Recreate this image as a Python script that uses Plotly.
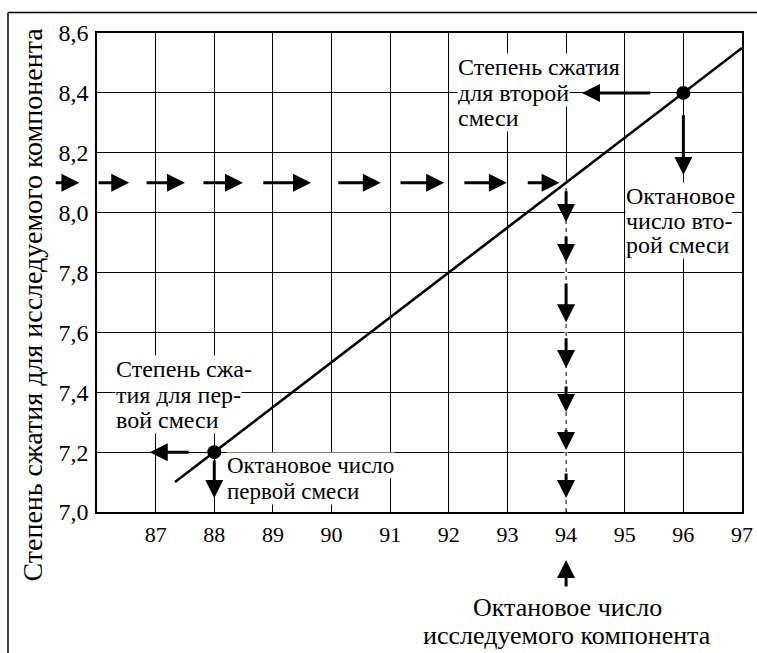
import plotly.graph_objects as go

# ---------------- data ----------------
X_RANGE = [86, 97]
Y_RANGE = [7.0, 8.6]
x_ticks = [87, 88, 89, 90, 91, 92, 93, 94, 95, 96, 97]
y_ticks = [7.0, 7.2, 7.4, 7.6, 7.8, 8.0, 8.2, 8.4, 8.6]

# calibration line
line_x = [87.33, 97.0]
line_y = [7.10, 8.55]

# known mixtures (octane number, compression ratio)
mix_x = [88, 96]
mix_y = [7.2, 8.4]

# dashed horizontal arrow chain at the compression ratio of the tested component
h_level = 8.1
h_start = [85.27, 86.00, 86.82, 87.79, 88.81, 90.09, 91.15, 92.24, 93.32]
h_end = [85.70, 86.55, 87.50, 88.49, 89.65, 90.84, 91.92, 92.99, 93.89]

# dashed vertical arrow chain down to the octane number of the tested component
v_level = 94
v_start = [8.076, 7.925, 7.768, 7.585, 7.424, 7.280, 7.134]
v_end = [7.969, 7.835, 7.634, 7.481, 7.334, 7.207, 7.047]

# arrows from the two mixture points
left2_x = [95.46, 94.27]   # from point 2 to the left (y = 8.4)
down2_y = [8.33, 8.126]    # from point 2 downwards (x = 96)
left1_x = [87.59, 86.90]   # from point 1 to the left (y = 7.2)
down1_y = [7.177, 7.047]   # from point 1 downwards (x = 88)

FONT = '"Liberation Serif", "DejaVu Serif", "Times New Roman", serif'


def xpaper(v):
    return (v - X_RANGE[0]) / (X_RANGE[1] - X_RANGE[0])


fig = go.Figure()

fig.add_trace(go.Scatter(x=line_x, y=line_y, mode="lines",
                         line=dict(color="black", width=2.6),
                         showlegend=False, hoverinfo="skip"))
fig.add_trace(go.Scatter(x=mix_x, y=mix_y, mode="markers",
                         marker=dict(color="black", size=14),
                         showlegend=False, hoverinfo="skip"))

ann = []
ARW = dict(showarrow=True, arrowhead=2, arrowsize=1.2, arrowwidth=3,
           arrowcolor="black", text="", standoff=0)

# horizontal chain
for s, e in zip(h_start, h_end):
    if e < X_RANGE[0]:
        ann.append(dict(x=xpaper(e), y=h_level, xref="paper", yref="y",
                        ax=-(e - s) * 58.6, ay=0, axref="pixel", ayref="pixel", **ARW))
    else:
        ann.append(dict(x=e, y=h_level, xref="x", yref="y",
                        ax=s, ay=h_level, axref="x", ayref="y", **ARW))
# vertical chain
for s, e in zip(v_start, v_end):
    ann.append(dict(x=v_level, y=e, xref="x", yref="y",
                    ax=v_level, ay=s, axref="x", ayref="y", **ARW))
# mixture arrows
ann.append(dict(x=left2_x[1], y=mix_y[1], ax=left2_x[0], ay=mix_y[1],
                xref="x", yref="y", axref="x", ayref="y", **ARW))
ann.append(dict(x=mix_x[1], y=down2_y[1], ax=mix_x[1], ay=down2_y[0],
                xref="x", yref="y", axref="x", ayref="y", **ARW))
ann.append(dict(x=left1_x[1], y=mix_y[0], ax=left1_x[0], ay=mix_y[0],
                xref="x", yref="y", axref="x", ayref="y", **ARW))
ann.append(dict(x=mix_x[0], y=down1_y[1], ax=mix_x[0], ay=down1_y[0],
                xref="x", yref="y", axref="x", ayref="y", **ARW))


def add_lines(lines, x, ys, size, xref="x", yref="y", xanchor="left", bg="white"):
    for t, y in zip(lines, ys):
        ann.append(dict(text=t, x=x, y=y, xref=xref, yref=yref,
                        xanchor=xanchor, yanchor="middle", showarrow=False,
                        bgcolor=bg, borderpad=0,
                        font=dict(family=FONT, size=size, color="black")))


add_lines(["Степень сжатия", "для второй", "смеси"], 92.14, [8.486, 8.400, 8.316], 24)
add_lines(["Октановое", "число вто-", "рой смеси"], 95.00, [8.055, 7.972, 7.892], 24)
add_lines(["Степень сжа-", "тия для пер-", "вой смеси"], 86.31, [7.478, 7.390, 7.307], 24)
add_lines(["Октановое число", "первой смеси"], 88.20, [7.154, 7.070], 23)
add_lines(["Октановое число", "исследуемого компонента"], 94.02, [-0.2004, -0.2568], 26,
          yref="paper", xanchor="center", bg=None)

# arrow below the axis pointing up at 94
ann.append(dict(x=v_level, y=-0.1002, xref="x", yref="paper",
                ax=0, ay=28, axref="pixel", ayref="pixel", **ARW))

# y-axis title
ann.append(dict(text="Степень сжатия для исследуемого компонента",
                x=-0.100, y=0.432, xref="paper", yref="paper",
                textangle=-90, showarrow=False, xanchor="center", yanchor="middle",
                font=dict(family=FONT, size=28, color="black")))

shapes = [
    # mask gridline at 94 below 8.1 and replace it with a thin dashed line
    dict(type="line", x0=v_level, x1=v_level, y0=7.005, y1=h_level, xref="x", yref="y",
         line=dict(color="white", width=3), layer="between"),
    dict(type="line", x0=v_level, x1=v_level, y0=7.0, y1=h_level, xref="x", yref="y",
         line=dict(color="black", width=1, dash="4px,4px"), layer="between"),
    # outer frame (top and left)
    dict(type="line", x0=-0.138, x1=1.03, y0=1.043, y1=1.043, xref="paper", yref="paper",
         line=dict(color="black", width=1.5)),
    dict(type="line", x0=-0.138, x1=-0.138, y0=1.043, y1=-0.32, xref="paper", yref="paper",
         line=dict(color="black", width=1.5)),
]

fig.update_layout(
    width=757, height=653,
    margin=dict(l=97, r=15, t=33, b=141, autoexpand=False),
    paper_bgcolor="white", plot_bgcolor="white",
    separators=", ",
    font=dict(family=FONT, color="black"),
    showlegend=False,
    hovermode=False,
    annotations=ann,
    shapes=shapes,
    xaxis=dict(range=X_RANGE, tickvals=x_ticks, showgrid=True, gridcolor="black",
               gridwidth=1, zeroline=False, showline=True, mirror=True,
               linecolor="black", linewidth=1.5, ticks="outside", ticklen=2,
               tickcolor="rgba(0,0,0,0)", tickfont=dict(family=FONT, size=22),
               automargin=False),
    yaxis=dict(range=Y_RANGE, tickvals=y_ticks, tickformat=".1f", showgrid=True,
               gridcolor="black", gridwidth=1, zeroline=False, showline=True,
               mirror=True, linecolor="black", linewidth=1.5, ticks="outside",
               ticklen=2, tickcolor="rgba(0,0,0,0)",
               tickfont=dict(family=FONT, size=24), automargin=False),
)

# remove the default page margin so the figure fills the window exactly
fig.write_html("out.html",
               config={"displayModeBar": False},
               post_script="document.body.style.margin='0';"
                           "document.body.style.overflow='hidden';")
